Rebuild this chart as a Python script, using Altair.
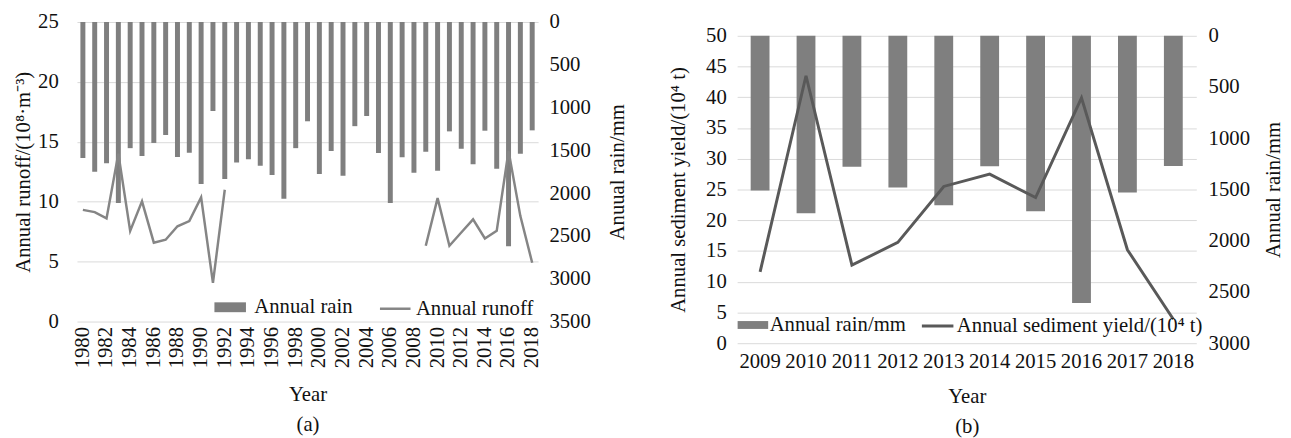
import altair as alt
import pandas as pd

FONT = "Liberation Serif"
FS = 21

# ---------------- Panel (a) data ----------------
years_a = [1980, 1981, 1982, 1983, 1984, 1985, 1986, 1987, 1988, 1989,
           1990, 1991, 1992, 1993, 1994, 1995, 1996, 1997, 1998, 1999,
           2000, 2001, 2002, 2003, 2004, 2005, 2006, 2007, 2008, 2009,
           2010, 2011, 2012, 2013, 2014, 2015, 2016, 2017, 2018]
rain_a = [1589, 1750, 1650, 2115, 1474, 1566, 1413, 1320, 1577, 1528,
          1892, 1040, 1834, 1643, 1604, 1681, 1788, 2064, 1474, 1160,
          1777, 1508, 1796, 1217, 1098, 1531, 2115, 1581, 1761, 1516,
          1738, 1278, 1481, 1662, 1270, 1715, 2621, 1539, 1266]
runoff_a = [9.32, 9.13, 8.61, 14.0, 7.57, 10.03, 6.58, 6.83, 7.95, 8.39,
            10.36, 3.23, 11.0, None, None, None, None, None, None, None,
            None, None, None, None, None, None, None, None, None, 6.33,
            10.3, 6.33, 7.43, 8.53, 6.93, 7.57, 14.23, 8.8, 4.91]
year_labels_a = years_a[::2]
runoff_ticks = [0, 5, 10, 15, 20, 25]
rain_ticks_a = [0, 500, 1000, 1500, 2000, 2500, 3000, 3500]

# ---------------- Panel (b) data ----------------
years_b = [2009, 2010, 2011, 2012, 2013, 2014, 2015, 2016, 2017, 2018]
rain_b = [1510, 1731, 1277, 1481, 1654, 1274, 1712, 2608, 1530, 1270]
sediment_b = [11.6, 43.5, 12.7, 16.4, 25.5, 27.5, 23.7, 39.9, 15.2, 3.9]
sed_ticks = [0, 5, 10, 15, 20, 25, 30, 35, 40, 45, 50]
rain_ticks_b = [0, 500, 1000, 1500, 2000, 2500, 3000]

BAR = "#7f7f7f"
LINE_A = "#858585"
LINE_B = "#595959"
GRID = "#d9d9d9"

# segment id so the runoff line breaks across missing years
seg, s, prev = [], 0, None
for v in runoff_a:
    if v is None:
        seg.append(None)
    else:
        if prev is None:
            s += 1
        seg.append(s)
    prev = v

df_a = pd.DataFrame({"year": years_a, "rain": rain_a, "runoff": runoff_a, "seg": seg})
df_b = pd.DataFrame({"year": years_b, "rain": rain_b, "sed": sediment_b})

rect_path_a = "M-1.6,-0.5H1.6V0.5H-1.6Z"
rect_path_b = "M-1.55,-0.4H1.55V0.4H-1.55Z"

# ---------------- Panel (a) ----------------
x_a = alt.X("year:O", title=["Year", "(a)"],
            scale=alt.Scale(paddingInner=0.58, paddingOuter=0.29),
            axis=alt.Axis(values=year_labels_a, labelAngle=270, labelPadding=5,
                          titlePadding=16, titleLineHeight=31))

bars_a = alt.Chart(df_a).transform_calculate(series="'Annual rain'").mark_bar().encode(
    x=x_a,
    y=alt.Y("rain:Q",
            scale=alt.Scale(domain=[0, 3500], reverse=True, nice=False, zero=True),
            axis=alt.Axis(orient="right", values=rain_ticks_a, grid=False, format="d",
                          title="Anuual rain/mm", titleAngle=270,
                          labelPadding=11, titlePadding=38, labelFlush=False)),
    color=alt.Color("series:N",
                    scale=alt.Scale(domain=["Annual rain"], range=[BAR]),
                    legend=alt.Legend(title=None, orient="none", legendX=145, legendY=279,
                                      symbolType=rect_path_a, symbolSize=400,
                                      symbolStrokeWidth=0, symbolOpacity=1,
                                      labelOffset=14, padding=0)),
)

line_a = alt.Chart(df_a).transform_filter("datum.runoff != null").transform_calculate(
    series2="'Annual runoff'").mark_line(strokeWidth=2.5).encode(
    x=alt.X("year:O"),
    y=alt.Y("runoff:Q", scale=alt.Scale(domain=[0, 25], nice=False),
            axis=alt.Axis(orient="left", values=runoff_ticks, grid=True, format="d",
                          title="Annual runoff/(10⁸·m⁻³)",
                          labelPadding=19, titlePadding=4, labelFlush=False)),
    detail="seg:N",
    stroke=alt.Stroke("series2:N",
                      scale=alt.Scale(domain=["Annual runoff"], range=[LINE_A]),
                      legend=alt.Legend(title=None, orient="none", legendX=306, legendY=274,
                                        symbolType="stroke", symbolSize=961,
                                        symbolStrokeWidth=2.5, labelOffset=4, padding=0)),
)

panel_a = alt.layer(bars_a, line_a).resolve_scale(y="independent").properties(
    width=468, height=304)

# ---------------- Panel (b) ----------------
x_b = alt.X("year:O", title=["Year", "(b)"],
            scale=alt.Scale(paddingInner=0.59, paddingOuter=0.295),
            axis=alt.Axis(labelAngle=0, labelPadding=8, titlePadding=14,
                          titleLineHeight=31))

# legend positions of panel (b) are relative to its column (spacer top)
bars_b = alt.Chart(df_b).transform_calculate(series="'Annual rain/mm'").mark_bar().encode(
    x=x_b,
    y=alt.Y("rain:Q",
            scale=alt.Scale(domain=[0, 3000], reverse=True, nice=False),
            axis=alt.Axis(orient="right", values=rain_ticks_b, grid=False, format="d",
                          title="Annual rain/mm", titleAngle=270,
                          labelPadding=12, titlePadding=34, labelFlush=False)),
    color=alt.Color("series:N",
                    scale=alt.Scale(domain=["Annual rain/mm"], range=[BAR]),
                    legend=alt.Legend(title=None, orient="none", legendX=5.5, legendY=297,
                                      symbolType=rect_path_b, symbolSize=400,
                                      symbolStrokeWidth=0, symbolOpacity=1,
                                      labelOffset=6.5, padding=0)),
)

line_b = alt.Chart(df_b).transform_calculate(
    series2="'Annual sediment yield/(10⁴ t)'").mark_line(strokeWidth=3).encode(
    x=alt.X("year:O"),
    y=alt.Y("sed:Q", scale=alt.Scale(domain=[0, 50], nice=False),
            axis=alt.Axis(orient="left", values=sed_ticks, grid=True, format="d",
                          title="Annual sediment yield/(10⁴ t)",
                          labelPadding=11, titlePadding=17, labelFlush=False)),
    stroke=alt.Stroke("series2:N",
                      scale=alt.Scale(domain=["Annual sediment yield/(10⁴ t)"], range=[LINE_B]),
                      legend=alt.Legend(title=None, orient="none", legendX=186, legendY=291,
                                        symbolType="stroke", symbolSize=1024,
                                        symbolStrokeWidth=3, labelOffset=2, padding=0)),
)

panel_b = alt.layer(bars_b, line_b).resolve_scale(y="independent").properties(
    width=466, height=312)

# invisible spacer that lowers panel (b) relative to panel (a)
spacer = alt.Chart(pd.DataFrame({"v": [0]})).mark_point(opacity=0).encode(
    x=alt.value(0), y=alt.value(0)).properties(width=466, height=1)

right_col = alt.vconcat(spacer, panel_b, spacing=0)

chart = alt.hconcat(panel_a, right_col, spacing=41).resolve_scale(
    color="independent", stroke="independent", x="independent"
).properties(
    padding={"left": 5, "top": 0, "right": 0, "bottom": 0}
).configure_view(stroke=None).configure_axis(
    domain=False, ticks=False, gridColor=GRID, gridWidth=1,
    labelFont=FONT, labelFontSize=FS, labelColor="#111111",
    titleFont=FONT, titleFontSize=FS, titleFontWeight="normal", titleColor="#111111",
).configure_legend(
    labelFont=FONT, labelFontSize=FS, labelColor="#111111", labelLimit=400,
).configure_title(font=FONT)

chart.save("out.html", embed_options={"renderer": "svg", "actions": False})
